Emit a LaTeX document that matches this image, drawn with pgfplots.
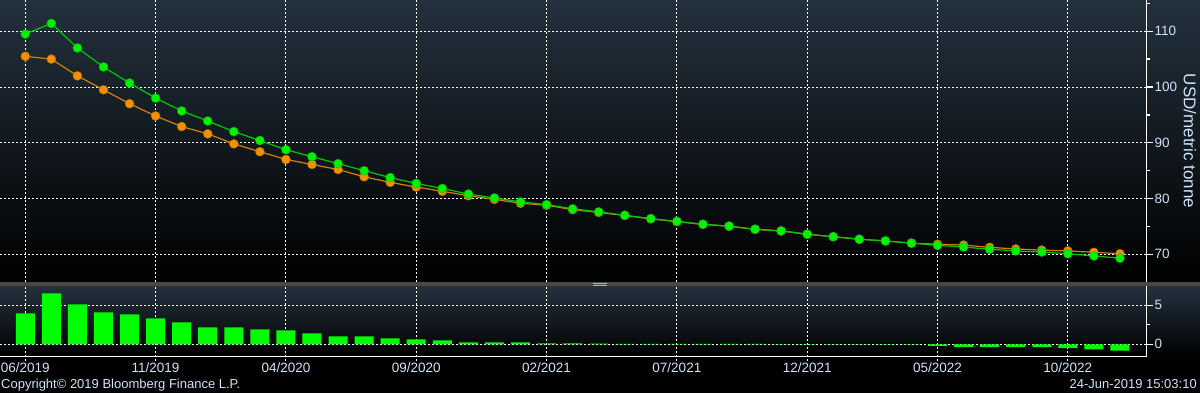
\documentclass[border=0pt]{standalone}
\usepackage{fontspec}
\setmainfont{Liberation Sans}
\usepackage{pgfplots}
\usepackage{pgfplotstable}
\pgfplotsset{compat=1.18}
\definecolor{bgtop}{RGB}{35,49,61}
\definecolor{lbl}{RGB}{205,228,250}
\definecolor{gmark}{RGB}{0,242,0}
\definecolor{gline}{RGB}{0,200,0}
\definecolor{omark}{RGB}{240,145,0}
\definecolor{oline}{RGB}{215,128,0}
\definecolor{sepc}{RGB}{72,72,72}
\definecolor{barc}{RGB}{0,255,0}

\pgfplotstableread{
m green orange
0 109.5 105.5
1 111.4 105.0
2 107.0 102.0
3 103.6 99.5
4 100.7 97.0
5 98.0 94.8
6 95.7 92.9
7 93.9 91.6
8 92.0 89.8
9 90.4 88.4
10 88.75 87.0
11 87.5 86.1
12 86.25 85.2
13 85.0 83.9
14 83.75 82.9
15 82.7 82.05
16 81.8 81.3
17 80.8 80.5
18 80.1 79.85
19 79.4 79.15
20 78.9 78.8
21 78.15 78.0
22 77.6 77.5
23 77.0 76.95
24 76.4 76.35
25 75.9 75.85
26 75.4 75.35
27 75.06 75.02
28 74.5 74.46
29 74.2 74.18
30 73.6 73.6
31 73.15 73.15
32 72.7 72.7
33 72.4 72.4
34 72.0 72.0
35 71.6 71.8
36 71.3 71.65
37 70.9 71.25
38 70.6 70.95
39 70.4 70.75
40 70.1 70.6
41 69.7 70.35
42 69.3 70.1
}\prices

\pgfplotstableread{
m diff
0 3.97
1 6.54
2 5.13
3 4.10
4 3.85
5 3.33
6 2.82
7 2.18
8 2.18
9 1.92
10 1.79
11 1.41
12 1.03
13 1.03
14 0.77
15 0.64
16 0.51
17 0.26
18 0.26
19 0.26
20 0.13
21 0.13
22 0.10
23 0.06
24 0.05
25 0.05
26 0.05
27 0.04
28 0.04
29 0.03
30 0.03
31 0.03
32 0.03
33 0.03
34 0.03
35 -0.2
36 -0.35
37 -0.35
38 -0.35
39 -0.35
40 -0.5
41 -0.65
42 -0.8
}\diffs

\begin{document}
\begin{tikzpicture}
\useasboundingbox (0pt,0pt) rectangle (1200pt,393pt);
\fill[black] (0pt,0pt) rectangle (1200pt,393pt);
\shade[top color=bgtop, bottom color=black] (0pt,111pt) rectangle (1200pt,393pt);
\shade[top color=bgtop, bottom color=black] (0pt,36pt) rectangle (1200pt,106.5pt);
\fill[sepc] (0pt,106.5pt) rectangle (1200pt,111pt);
\draw[gray!60, line width=0.6pt] (593pt,108.0pt)--(607pt,108.0pt) (593pt,109.6pt)--(607pt,109.6pt);

\pgfplotsset{
  bb/.style={
    scale only axis,
    anchor=south west,
    width=1146pt,
    xmin=-0.97, xmax=43,
    axis y line*=right,
    axis x line*=bottom,
    y axis line style={white, line width=1pt, -},
    xtick={0,5,...,40},
    grid=major,
    major grid style={white, line width=0.9pt, dash pattern=on 2pt off 2pt},
    ytick style={white, line width=1.3pt},
    tick align=outside,
    major tick length=7pt,
    minor tick length=4pt,
    ytick pos=right,
    /pgf/number format/assume math mode=true,
    tick label style={font=\fontsize{13.5}{15}\selectfont, text=lbl},
    yticklabel style={inner sep=1.5pt},
  }
}

\begin{axis}[bb,
  at={(0pt,111pt)}, height=282pt,
  ymin=65.03, ymax=115.6,
  x axis line style={draw=none},
  xtick style={draw=none},
  xticklabels={},
  ytick={70,80,...,110},
  minor ytick={65,75,...,115},
  ylabel={USD/metric tonne},
  every axis y label/.style={at={(rel axis cs:1,0.5)}, xshift=44pt, anchor=center, rotate=-90, font=\fontsize{17}{19}\selectfont, text=lbl},
]
\addplot[oline, line width=1.2pt, mark=*, mark size=4.5pt,
  mark options={fill=omark, draw=omark!75!black, line width=0.4pt}] table[x=m, y=orange] {\prices};
\addplot[gline, line width=1.2pt, mark=*, mark size=4.5pt,
  mark options={fill=gmark, draw=gmark!75!black, line width=0.4pt}] table[x=m, y=green] {\prices};
\end{axis}

\begin{axis}[bb,
  at={(0pt,36pt)}, height=70.5pt,
  ymin=-1.63, ymax=7.41,
  x axis line style={white, line width=1pt, -},
  xtick style={white, line width=0.9pt, dash pattern=on 2pt off 2pt},
  xtick={0,5,...,40},
  x tick style={/pgfplots/major tick length=4pt},
  xticklabels={06/2019,11/2019,04/2020,09/2020,02/2021,07/2021,12/2021,05/2022,10/2022},
  xticklabel style={anchor=north, inner sep=1pt, yshift=2.5pt},
  ytick={0,5},
  minor ytick={2.5},
]
\addplot[ybar, bar width=19pt, fill=barc, draw=none] table[x=m, y=diff] {\diffs};
\end{axis}

\node[anchor=base west, inner sep=0pt, text=lbl, font=\fontsize{13}{15}\selectfont] at (1pt,4pt) {Copyright\textcopyright{} 2019 Bloomberg Finance L.P.};
\node[anchor=base east, inner sep=0pt, text=lbl, font=\fontsize{13}{15}\selectfont] at (1197pt,4.5pt) {24-Jun-2019 15:03:10};
\end{tikzpicture}
\end{document}
